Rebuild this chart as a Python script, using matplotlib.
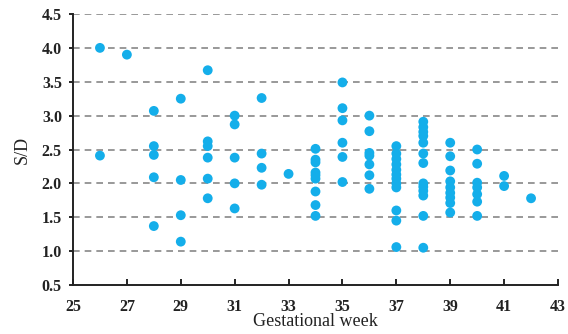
import matplotlib
matplotlib.use("Agg")
import matplotlib.pyplot as plt

weeks = {
    26: [4.0, 2.41],
    27: [3.9],
    28: [3.07, 2.55, 2.42, 2.09, 1.37],
    29: [3.25, 2.05, 1.53, 1.14],
    30: [3.67, 2.62, 2.55, 2.38, 2.07, 1.78],
    31: [3.0, 2.87, 2.38, 2.0, 1.63],
    32: [3.26, 2.44, 2.23, 1.98],
    33: [2.14],
    34: [2.51, 2.35, 2.31, 2.16, 2.12, 2.07, 1.88, 1.68, 1.52],
    35: [3.49, 3.11, 2.93, 2.6, 2.39, 2.02],
    36: [3.0, 2.77, 2.45, 2.41, 2.28, 2.12, 1.92],
    37: [2.55, 2.44, 2.36, 2.28, 2.2, 2.13, 2.07, 2.0, 1.94, 1.6, 1.45, 1.06],
    38: [2.91, 2.83, 2.76, 2.7, 2.6, 2.44, 2.3, 2.0, 1.95, 1.89, 1.82, 1.52, 1.05],
    39: [2.6, 2.4, 2.19, 2.03, 1.94, 1.86, 1.79, 1.71, 1.57],
    40: [2.5, 2.29, 2.01, 1.94, 1.84, 1.73, 1.52],
    41: [2.11, 1.96],
    42: [1.78],
}
x_ticks = list(range(25, 44, 2))
y_ticks = [0.5, 1.0, 1.5, 2.0, 2.5, 3.0, 3.5, 4.0, 4.5]

xs, ys = [], []
for w, vals in weeks.items():
    for v in vals:
        xs.append(w)
        ys.append(v)

fig = plt.figure(figsize=(5.68, 3.34), dpi=100)
ax = fig.add_axes([73/568, 1 - 285/334, (558-73)/568, (285-14)/334])

for y in y_ticks[1:]:
    ax.axhline(y, color="#888888", lw=1.2, ls=(0, (4, 3)), zorder=1)

ax.scatter(xs, ys, s=50, color="#14AEEA", edgecolors="none", zorder=3, clip_on=False)

ax.set_xlim(25, 43)
ax.set_ylim(0.5, 4.5)
ax.set_xticks(x_ticks)
ax.set_yticks(y_ticks)
ax.set_yticklabels([f"{v:.1f}" for v in y_ticks])
for s in ["top", "right"]:
    ax.spines[s].set_visible(False)
for s in ["left", "bottom"]:
    ax.spines[s].set_linewidth(1.4)
    ax.spines[s].set_color("#222222")
ax.tick_params(axis="x", direction="in", length=4, width=1.2, pad=10)
ax.tick_params(axis="y", direction="out", length=3, width=1.2, pad=5)
for lab in ax.get_xticklabels() + ax.get_yticklabels():
    lab.set_fontfamily("Liberation Serif")
    lab.set_fontweight("bold")
    lab.set_fontsize(11.5)
    lab.set_color("#222222")

ax.set_xlabel("Gestational week", fontfamily="Liberation Serif", fontsize=13, labelpad=-1, color="#222222")
ax.set_ylabel("S/D", fontfamily="Liberation Serif", fontsize=13, labelpad=8, color="#222222")

fig.savefig("out.png", dpi=100)
